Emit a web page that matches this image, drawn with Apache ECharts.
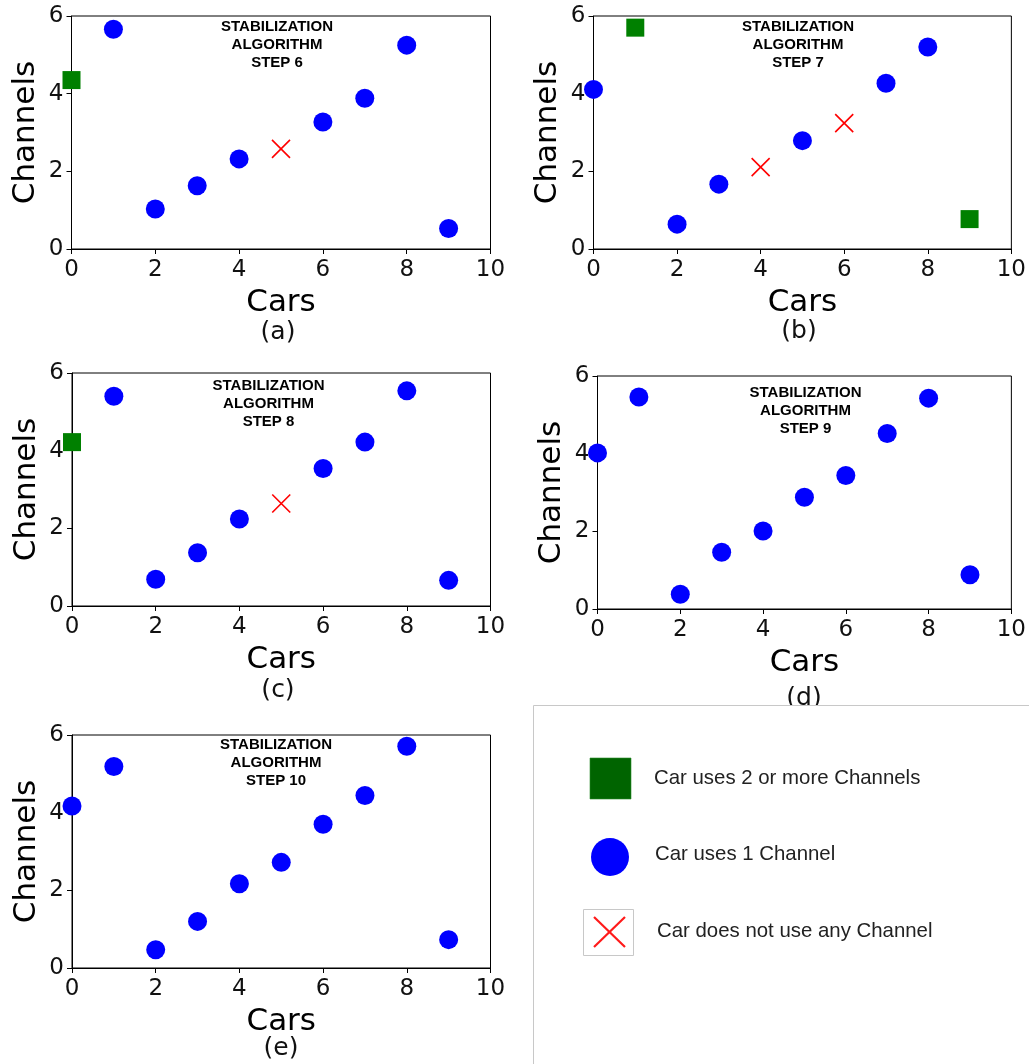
<!DOCTYPE html>
<html>
<head>
<meta charset="utf-8">
<script src="https://cdn.jsdelivr.net/npm/echarts@6/dist/echarts.min.js"></script>
<style>
html,body{margin:0;padding:0;background:#fff;}
#chart{width:1029px;height:1064px;}
</style>
</head>
<body>
<div id="chart"></div>
<script>
// ---- data ----
const cars = [0, 1, 2, 3, 4, 5, 6, 7, 8, 9];
const xTicks = [0, 2, 4, 6, 8, 10];
const yTicks = [0, 2, 4, 6];
const stepTitles = ['STABILIZATION\nALGORITHM\nSTEP 6', 'STABILIZATION\nALGORITHM\nSTEP 7',
  'STABILIZATION\nALGORITHM\nSTEP 8', 'STABILIZATION\nALGORITHM\nSTEP 9', 'STABILIZATION\nALGORITHM\nSTEP 10'];
const panelLabels = ['(a)', '(b)', '(c)', '(d)', '(e)'];
// channel value per car
const step6  = [4.35, 5.66, 1.03, 1.63, 2.32, 2.58, 3.27, 3.88, 5.25, 0.53];
const step7  = [4.11, 5.70, 0.64, 1.67, 2.11, 2.79, 3.24, 4.27, 5.20, 0.77];
const step8  = [4.22, 5.40, 0.69, 1.37, 2.24, 2.64, 3.54, 4.22, 5.54, 0.66];
const step9  = [4.02, 5.46, 0.38, 1.46, 2.01, 2.88, 3.44, 4.52, 5.43, 0.88];
const step10 = [4.17, 5.19, 0.47, 1.20, 2.17, 2.72, 3.70, 4.44, 5.71, 0.73];
// channels used per car: 2 = two or more, 1 = one, 0 = none
const use6  = [2, 1, 1, 1, 1, 0, 1, 1, 1, 1];
const use7  = [1, 2, 1, 1, 0, 1, 0, 1, 1, 2];
const use8  = [2, 1, 1, 1, 1, 0, 1, 1, 1, 1];
const use9  = [1, 1, 1, 1, 1, 1, 1, 1, 1, 1];
const use10 = [1, 1, 1, 1, 1, 1, 1, 1, 1, 1];
const legendNames = ['Car uses 2 or more Channels', 'Car uses 1 Channel', 'Car does not use any Channel'];

const steps = [step6, step7, step8, step9, step10];
const uses = [use6, use7, use8, use9, use10];

// ---- layout ----
const grids = [
  {left: 71.5, top: 16, width: 419, height: 233},
  {left: 593.5, top: 16, width: 419, height: 233},
  {left: 72, top: 373, width: 418.5, height: 233},
  {left: 597.5, top: 376, width: 418.5, height: 233},
  {left: 72, top: 735, width: 418.5, height: 233}
];
const titlePos = [[277, 44.5], [798, 44.5], [268.5, 403.5], [805.5, 411], [276, 763]];
const labelPos = [[278, 332], [799, 331], [278, 690], [804, 698], [281, 1048]];

const F = '"DejaVu Sans", sans-serif';
const chart = echarts.init(document.getElementById('chart'), null, {renderer: 'canvas'});

const xAxes = [], yAxes = [], series = [], graphics = [];
grids.forEach((g, i) => {
  xAxes.push({
    gridIndex: i, type: 'value', min: xTicks[0], max: xTicks[xTicks.length - 1],
    interval: xTicks[1] - xTicks[0],
    name: 'Cars', nameLocation: 'middle', nameGap: 38,
    nameTextStyle: {fontFamily: F, fontSize: 31, color: '#000'},
    axisLine: {show: true, onZero: false, lineStyle: {color: '#000', width: 1}},
    axisTick: {show: true, length: 5, lineStyle: {color: '#000', width: 1}},
    axisLabel: {fontFamily: F, fontSize: 23, color: '#111', margin: 10, showMaxLabel: true, showMinLabel: true},
    splitLine: {show: false}
  });
  yAxes.push({
    gridIndex: i, type: 'value', min: yTicks[0], max: yTicks[yTicks.length - 1],
    interval: yTicks[1] - yTicks[0],
    name: 'Channels', nameLocation: 'middle', nameGap: 30, nameRotate: 90,
    nameTextStyle: {fontFamily: F, fontSize: 31, color: '#000'},
    axisLine: {show: true, onZero: false, lineStyle: {color: '#000', width: 1}},
    axisTick: {show: true, length: 5, lineStyle: {color: '#000', width: 1}},
    axisLabel: {fontFamily: F, fontSize: 23, color: '#111', margin: 8, padding: [4, 0, 0, 0],
      showMaxLabel: true, showMinLabel: true},
    splitLine: {show: false}
  });
  const vals = steps[i], u = uses[i];
  const pick = (k) => cars.filter((c, j) => u[j] === k).map(c => [c, vals[c]]);
  series.push({
    type: 'scatter', name: legendNames[0], xAxisIndex: i, yAxisIndex: i, clip: true,
    symbol: 'rect', symbolSize: 18, itemStyle: {color: '#008000', opacity: 1}, data: pick(2), z: 3
  });
  series.push({
    type: 'scatter', name: legendNames[1], xAxisIndex: i, yAxisIndex: i, clip: true,
    symbol: 'circle', symbolSize: 19, itemStyle: {color: '#0000ff', opacity: 1}, data: pick(1), z: 3
  });
  series.push({
    type: 'scatter', name: legendNames[2], xAxisIndex: i, yAxisIndex: i, clip: true,
    symbol: 'path://M0,0L1,1M1,0L0,1', symbolSize: 18,
    itemStyle: {color: '#ff0000', borderColor: '#ff0000', borderWidth: 1.6, opacity: 1}, data: pick(0), z: 3
  });
  graphics.push({
    type: 'text', x: titlePos[i][0], y: titlePos[i][1], z: 10,
    style: {text: stepTitles[i], font: 'bold 15px "Liberation Sans", Arial, sans-serif',
      fill: '#000', align: 'center', verticalAlign: 'middle', lineHeight: 18}
  });
  graphics.push({
    type: 'text', x: labelPos[i][0], y: labelPos[i][1], z: 10,
    style: {text: panelLabels[i], font: '25px ' + F, fill: '#111', align: 'center', verticalAlign: 'middle'}
  });
});

// legend panel
const LF = '20.4px "Liberation Sans", Arial, sans-serif';
graphics.push(
  {type: 'rect', z: 20, shape: {x: 533.5, y: 705.5, width: 600, height: 400},
    style: {fill: '#fff', stroke: '#c8c8c8', lineWidth: 1}},
  {type: 'rect', z: 21, shape: {x: 590, y: 758, width: 41, height: 41},
    style: {fill: '#006400', stroke: '#2a8a2a', lineWidth: 0.6}},
  {type: 'text', z: 21, x: 654, y: 778, style: {text: legendNames[0], font: LF, fill: '#222', verticalAlign: 'middle'}},
  {type: 'circle', z: 21, shape: {cx: 610, cy: 857, r: 19}, style: {fill: '#0000ff'}},
  {type: 'text', z: 21, x: 655, y: 854, style: {text: legendNames[1], font: LF, fill: '#222', verticalAlign: 'middle'}},
  {type: 'rect', z: 21, shape: {x: 583.5, y: 909.5, width: 50, height: 46},
    style: {fill: '#fff', stroke: '#c8c8c8', lineWidth: 1}},
  {type: 'polyline', z: 22, shape: {points: [[594, 917], [625, 947]]}, style: {stroke: '#ff1a1a', lineWidth: 2.2}},
  {type: 'polyline', z: 22, shape: {points: [[625, 917], [594, 947]]}, style: {stroke: '#ff1a1a', lineWidth: 2.2}},
  {type: 'text', z: 21, x: 657, y: 931, style: {text: legendNames[2], font: LF, fill: '#222', verticalAlign: 'middle'}}
);

chart.setOption({
  animation: false,
  backgroundColor: '#fff',
  grid: grids.map(g => Object.assign({show: true, borderColor: '#000', borderWidth: 1, backgroundColor: 'transparent'}, g)),
  xAxis: xAxes,
  yAxis: yAxes,
  series: series,
  graphic: graphics
});
</script>
</body>
</html>
